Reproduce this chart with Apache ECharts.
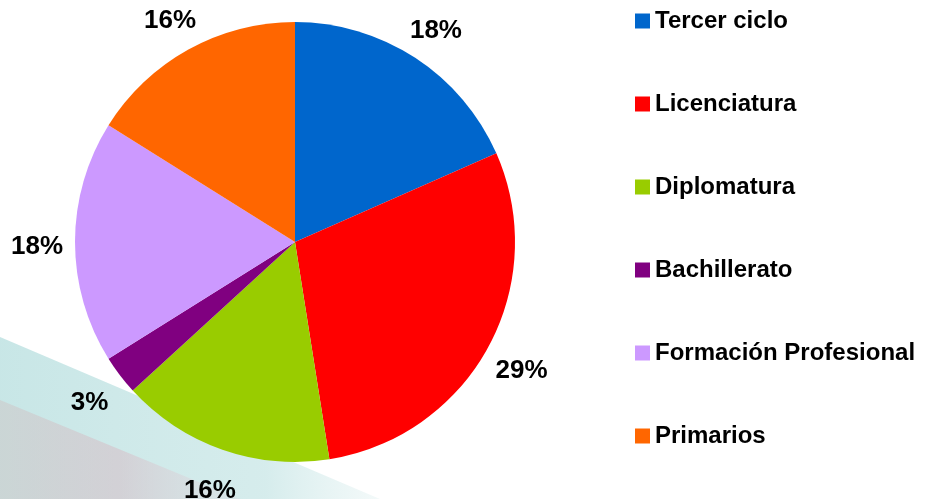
<!DOCTYPE html>
<html>
<head>
<meta charset="utf-8">
<script src="https://cdn.jsdelivr.net/npm/echarts@6/dist/echarts.min.js"></script>
<style>
  html, body { margin: 0; padding: 0; background: #fff; }
  #main { width: 927px; height: 499px; }
</style>
</head>
<body>
<div id="main"></div>
<script>
var categories = ['Tercer ciclo', 'Licenciatura', 'Diplomatura', 'Bachillerato', 'Formación Profesional', 'Primarios'];
var values = [18.4, 29.1, 15.7, 2.9, 17.8, 16.1];
var colors = ['#0066CC', '#FF0000', '#99CC00', '#800080', '#CC99FF', '#FF6600'];

var myChart = echarts.init(document.getElementById('main'), null, {renderer: 'canvas'});

var pieData = categories.map(function (name, i) {
    return {name: name, value: values[i], itemStyle: {color: colors[i]}};
});
var labelData = categories.map(function (name, i) {
    return {name: name, value: values[i]};
});

var option = {
    backgroundColor: '#ffffff',
    animation: false,
    // faint swoosh in the lower left corner
    graphic: [
        {
            type: 'polygon', z: -10, silent: true,
            shape: {points: [[0, 337], [380, 499], [0, 499]]},
            style: {
                fill: new echarts.graphic.LinearGradient(0, 0, 1, 0, [
                    {offset: 0, color: 'rgba(190,226,226,0.85)'},
                    {offset: 0.7, color: 'rgba(200,230,230,0.75)'},
                    {offset: 1, color: 'rgba(215,236,236,0.3)'}
                ])
            }
        },
        {
            type: 'polygon', z: -9, silent: true,
            shape: {points: [[0, 400], [240, 499], [0, 499]]},
            style: {
                fill: new echarts.graphic.LinearGradient(0, 0, 1, 0, [
                    {offset: 0, color: 'rgba(205,200,200,0.55)'},
                    {offset: 0.5, color: 'rgba(215,185,195,0.5)'},
                    {offset: 1, color: 'rgba(225,215,222,0.25)'}
                ])
            }
        }
    ],
    legend: {
        orient: 'vertical',
        left: 630,
        top: 4,
        icon: 'rect',
        itemWidth: 15,
        itemHeight: 15,
        itemGap: 59,
        data: categories,
        textStyle: {
            fontFamily: 'Liberation Sans, Arial, sans-serif',
            fontWeight: 'bold',
            fontSize: 24,
            lineHeight: 24,
            color: '#000'
        }
    },
    series: [
        {
            name: 'main',
            type: 'pie',
            center: [295, 242],
            radius: [0, 220],
            startAngle: 90,
            clockwise: true,
            silent: true,
            label: {show: false},
            labelLine: {show: false},
            data: pieData
        },
        {
            // transparent ring used only to place the percentages
            name: 'labels',
            type: 'pie',
            center: [295, 247],
            radius: [243, 267],
            startAngle: 90,
            clockwise: true,
            silent: true,
            itemStyle: {color: 'rgba(0,0,0,0)'},
            label: {
                show: true,
                position: 'inside',
                formatter: function (p) { return Math.round(p.percent) + '%'; },
                fontFamily: 'Liberation Sans, Arial, sans-serif',
                fontWeight: 'bold',
                fontSize: 26,
                color: '#000'
            },
            labelLine: {show: false},
            data: labelData
        }
    ]
};

myChart.setOption(option);
</script>
</body>
</html>
